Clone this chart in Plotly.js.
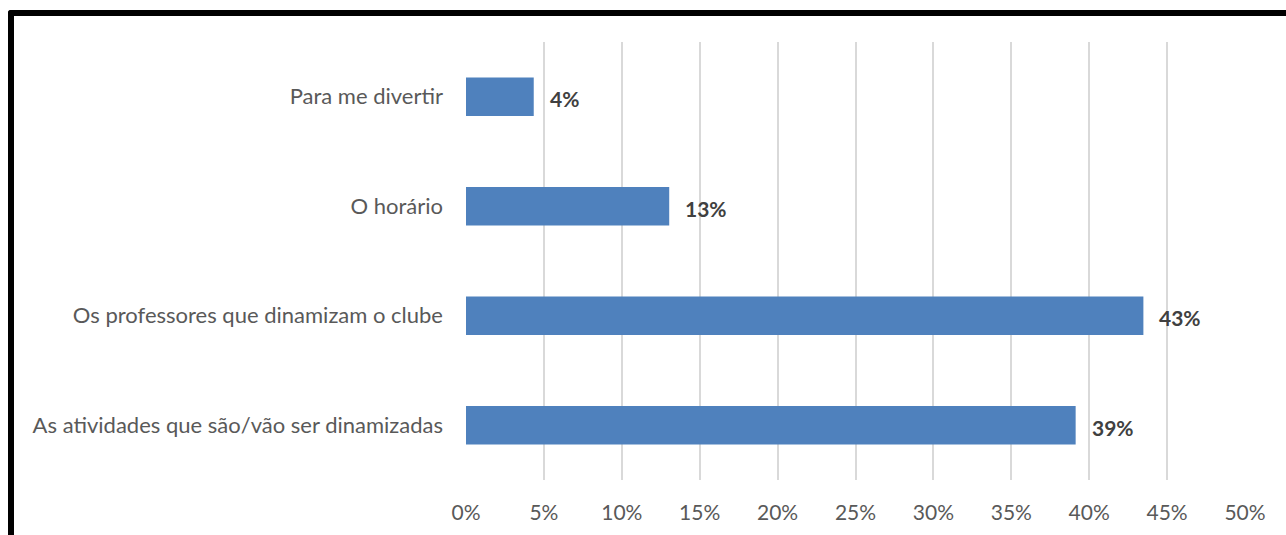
<!DOCTYPE html>
<html>
<head>
<meta charset="utf-8">
<script src="https://cdn.plot.ly/plotly-3.0.1.min.js"></script>
<style>
html,body{margin:0;padding:0;background:#fff;}
#wrap{position:relative;width:1286px;height:535px;overflow:hidden;}
#chart{width:1286px;height:535px;}
#frame{position:absolute;left:8px;top:10px;width:1400px;height:700px;border-left:6px solid #000;border-top:6px solid #000;border-top-left-radius:3px;pointer-events:none;}
</style>
</head>
<body>
<div id="wrap"><div id="chart"></div><div id="frame"></div></div>
<script>
const categories = ["As atividades que são/vão ser dinamizadas", "Os professores que dinamizam o clube", "O horário", "Para me divertir"];
const shares = [9/23, 10/23, 3/23, 1/23];
const tickVals = [0, 0.05, 0.10, 0.15, 0.20, 0.25, 0.30, 0.35, 0.40, 0.45, 0.50];

const fontFam = "Lato, Open Sans, sans-serif";

const trace = {
  type: "bar",
  orientation: "h",
  y: categories,
  x: shares,
  width: 0.35,
  marker: {color: "#4f81bd", line: {width: 0}},
  hoverinfo: "none"
};

const annotations = categories.map((c, i) => ({
  x: shares[i], y: c, xref: "x", yref: "y",
  text: "<b>" + Math.round(shares[i] * 100) + "%</b>",
  showarrow: false, xanchor: "left", xshift: 14, yshift: -2,
  font: {family: fontFam, size: 21, color: "#404040"}
}));

const layout = {
  width: 1286, height: 535,
  margin: {l: 466, r: 41, t: 42, b: 55},
  paper_bgcolor: "#fff", plot_bgcolor: "#fff",
  showlegend: false,
  bargap: 0.65,
  xaxis: {
    range: [0, 0.5], tickvals: tickVals, tickformat: ".0%",
    showgrid: true, gridcolor: "#d9d9d9", gridwidth: 2,
    zeroline: false, showline: false, ticks: "",
    tickfont: {family: fontFam, size: 21, color: "#595959"},
    ticklabelstandoff: 18, fixedrange: true
  },
  yaxis: {
    showgrid: false, zeroline: false, showline: false, ticks: "",
    tickfont: {family: fontFam, size: 22, color: "#595959"},
    ticklabelstandoff: 22, fixedrange: true
  },
  annotations: annotations
};

Plotly.newPlot("chart", [trace], layout, {displayModeBar: false, staticPlot: true});
</script>
</body>
</html>
